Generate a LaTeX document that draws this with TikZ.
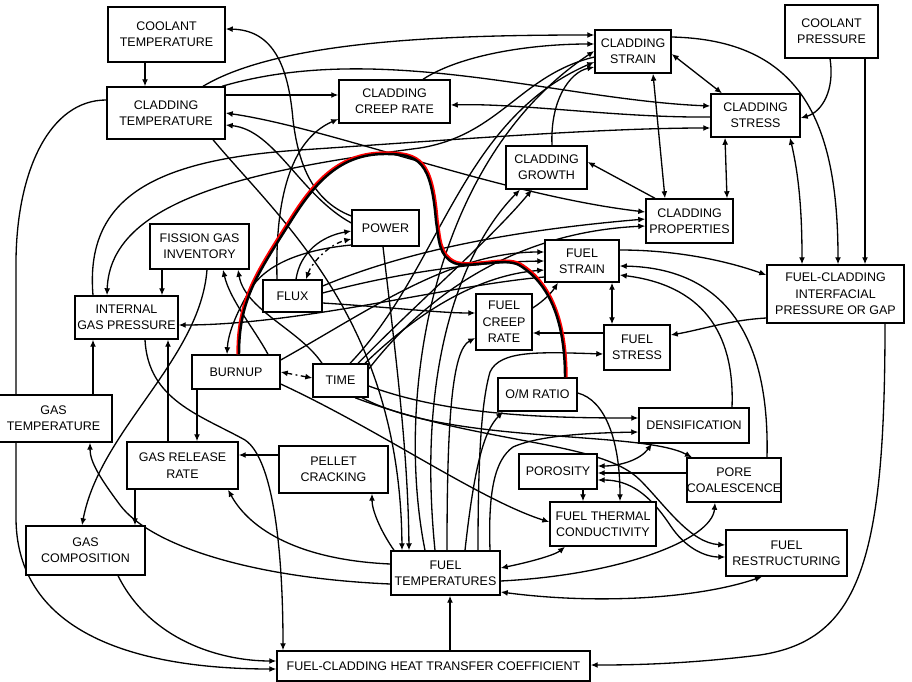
\documentclass[tikz,border=0pt]{standalone}
\usepackage{fontspec}
\setmainfont{Liberation Sans}
\usetikzlibrary{arrows.meta,calc}
\pgfdeclarelayer{bg}
\pgfsetlayers{bg,main}
\tikzset{
 bx/.style={draw,fill=white,line width=0.8pt,align=center,inner sep=0pt,font=\fontsize{7.1}{9.3}\selectfont},
 ar/.style={line width=0.75pt,-{Latex[length=4pt,width=3.4pt]}},
 br/.style={line width=0.75pt,{Latex[length=4pt,width=3.4pt]}-{Latex[length=4pt,width=3.4pt]}},
 ddash/.style={br,dash pattern=on 3pt off 2pt on 1pt off 2pt},
 hilite/.style={line width=1.9pt,red},
 hiblack/.style={line width=1.4pt,black},
}
\newcommand\bnode[6]{\node[bx,minimum width=#4*0.02cm,minimum height=#5*0.02cm] (#1) at (#2,#3) {#6};}
\begin{document}
\begin{tikzpicture}[x=0.02cm,y=-0.02cm]
\useasboundingbox (0,0) rectangle (912,682);
% nodes
\bnode{cool}{166.5}{34.5}{117}{55}{COOLANT\\TEMPERATURE}
\bnode{ct}{166}{113}{118}{52}{CLADDING\\TEMPERATURE}
\bnode{ccr}{394.5}{101.5}{111}{43}{CLADDING\\CREEP RATE}
\bnode{cstr}{633}{51.5}{76}{43}{CLADDING\\STRAIN}
\bnode{css}{755.5}{115.5}{89}{43}{CLADDING\\STRESS}
\bnode{cpr}{831.5}{31.5}{93}{53}{COOLANT\\PRESSURE}
\bnode{cg}{546.5}{167.5}{81}{43}{CLADDING\\GROWTH}
\bnode{cprop}{689.5}{221}{87}{44}{CLADDING\\PROPERTIES}
\bnode{pow}{385.5}{228}{67}{36}{POWER}
\bnode{fgi}{199.5}{246.5}{99}{45}{FISSION GAS\\INVENTORY}
\bnode{flux}{292.5}{296}{59}{32}{FLUX}
\bnode{igp}{126.5}{317.5}{103}{43}{INTERNAL\\GAS PRESSURE}
\bnode{bu}{236}{372}{88}{34}{BURNUP}
\bnode{time}{340.5}{380.5}{55}{33}{TIME}
\bnode{gt}{53.5}{418.5}{117}{47}{GAS\\TEMPERATURE}
\bnode{fs}{582}{261}{74}{42}{FUEL\\STRAIN}
\bnode{fcr}{504}{322}{56}{56}{FUEL\\CREEP\\RATE}
\bnode{fst}{637}{347.5}{66}{45}{FUEL\\STRESS}
\bnode{fci}{835.5}{294}{137}{58}{FUEL-CLADDING\\INTERFACIAL\\PRESSURE OR GAP}
\bnode{om}{537.5}{394.5}{79}{33}{O/M RATIO}
\bnode{dens}{694}{425.5}{110}{35}{DENSIFICATION}
\bnode{por}{558}{471.5}{78}{35}{POROSITY}
\bnode{pc}{734}{480}{94}{44}{PORE\\COALESCENCE}
\bnode{ftc}{603}{524}{106}{44}{FUEL THERMAL\\CONDUCTIVITY}
\bnode{fr}{786.5}{553}{121}{46}{FUEL\\RESTRUCTURING}
\bnode{ft}{445.5}{573}{109}{44}{FUEL\\TEMPERATURES}
\bnode{pel}{333.5}{469.5}{109}{47}{PELLET\\CRACKING}
\bnode{grr}{182.5}{465.5}{111}{47}{GAS RELEASE\\RATE}
\bnode{gc}{85.5}{550.5}{119}{49}{GAS\\COMPOSITION}
\bnode{htc}{433.5}{666}{313}{30}{FUEL-CLADDING HEAT TRANSFER COEFFICIENT}

\begin{pgfonlayer}{bg}
\fill[white] (0,0) rectangle (912,682);
% top area
\draw[ar] (cool.south -| 145,0) -- (ct.north -| 145,0);
\draw[ar] (pow.west |- 0,216) .. controls (310,200) and (298,160) .. (293,120) .. controls (288,60) and (270,30) .. (cool.east |- 0,29);
\draw[ar] (pow.west |- 0,223) .. controls (300,195) and (275,130) .. (ct.east |- 0,125);
\draw[ar] (ct.east |- 0,95) -- (ccr.west |- 0,95);
\draw[ar] (ct.north -| 203,0) .. controls (280,40) and (450,35) .. (cstr.west |- 0,35);
\draw[ar] (ct.north -| 222,0) .. controls (380,40) and (560,100) .. (css.west |- 0,106);
\draw[ar] (ccr.north -| 423,0) .. controls (460,55) and (530,44) .. (cstr.west |- 0,44);
\draw[ar] (css.west |- 0,117) .. controls (620,118) and (520,103) .. (ccr.east |- 0,105);
\draw[ar] (cpr.south -| 830,0) .. controls (835,90) and (822,112) .. (css.east |- 0,118);
\draw[ar] (cpr.south -| 865,0) -- (fci.north -| 865,0);
\draw[ar] (cstr.east |- 0,37) .. controls (800,40) and (838,120) .. (fci.north -| 838,0);
\draw[br] (cstr.east |- 0,54) -- (css.north -| 722,0);
\draw[br] (cstr.south -| 653,0) -- (cprop.north -| 665,0);
\draw[br] (css.south -| 725,0) -- (cprop.north -| 727,0);
\draw[br] (css.south -| 790,0) .. controls (800,180) and (802,220) .. (fci.north -| 802,0);
\draw[ar] (cprop.north -| 655,0) -- (cg.east |- 0,162);
\draw[ar] (cg.north -| 552,0) .. controls (550,100) and (570,72) .. (cstr.west |- 0,67);
\draw[ar] (igp.north -| 93,0) .. controls (85,200) and (150,160) .. (300,150) .. controls (450,140) and (600,128) .. (css.west |- 0,128);
\draw[ar] (cstr.west |- 0,57) .. controls (520,75) and (500,135) .. (420,148) .. controls (250,170) and (110,200) .. (igp.north -| 107,0);
\draw[br] (cprop.west |- 0,212) .. controls (500,195) and (330,128) .. (ct.east |- 0,113);
\draw[ar] (ct.south -| 213,0) .. controls (280,220) and (400,320) .. (ft.north -| 402,0);
\draw[ar] (pow.south -| 383,0) .. controls (395,350) and (408,450) .. (ft.north -| 409,0);
% from fuel temperatures upward
\draw[ar] (ft.north -| 425,0) .. controls (395,400) and (430,160) .. (cstr.west |- 0,51);
\draw[ar] (ft.north -| 435,0) .. controls (415,350) and (470,240) .. (cg.south -| 520,0);
\draw[ar] (ft.north -| 447,0) .. controls (447,420) and (452,350) .. (fcr.west |- 0,338);
\draw[ar] (ft.north -| 465,0) .. controls (475,460) and (485,430) .. (om.south -| 503,0);
\draw[ar] (ft.north -| 478,0) .. controls (478,450) and (482,400) .. (490,372) .. controls (500,350) and (540,352) .. (fst.west |- 0,354);
\draw[ar] (ft.north -| 490,0) .. controls (488,490) and (495,460) .. (513,447) .. controls (540,435) and (590,433) .. (dens.west |- 0,432);
% time
\draw[ar] (time.east |- 0,386) .. controls (450,416) and (550,418) .. (dens.west |- 0,418);
\draw[ar] (time.south -| 355,0) .. controls (480,445) and (600,440) .. (640,480) .. controls (665,505) and (690,543) .. (fr.west |- 0,545);
\draw[ar] (time.south -| 362,0) .. controls (450,445) and (640,430) .. (pc.north -| 692,0);
\draw[ddash] (bu.east |- 0,372) -- (time.west |- 0,378);
\draw[ar] (bu.east |- 0,384) .. controls (380,430) and (480,500) .. (ftc.west |- 0,522);
\draw[ar] (bu.south -| 197,0) -- (grr.north -| 197,0);
\draw[ar] (pel.west |- 0,455) -- (grr.east |- 0,455);
\draw[ar] (ft.north -| 394,0) .. controls (380,530) and (372,510) .. (pel.south -| 372,0);
\draw[ar] (ft.west |- 0,564) .. controls (300,560) and (250,530) .. (grr.south -| 228,0);
\draw[ar] (ft.west |- 0,584) .. controls (250,578) and (150,545) .. (120,505) .. controls (100,478) and (90,462) .. (gt.south -| 90,0);
\draw[ar] (gt.north -| 93,0) -- (igp.south -| 93,0);
\draw[ar] (grr.north -| 168,0) -- (igp.south -| 168,0);
\draw[ar] (grr.south -| 135,0) -- (gc.north -| 135,0);
\draw[ar] (fgi.south -| 162,0) -- (igp.north -| 162,0);
\draw[ar] (fgi.south -| 207,0) .. controls (200,360) and (100,430) .. (gc.north -| 82,0);
\draw[ar] (igp.south -| 145,0) .. controls (148,400) and (200,415) .. (245,440) .. controls (275,460) and (283,560) .. (htc.north -| 283,0);
\draw[ar] (gc.south -| 118,0) .. controls (150,640) and (220,661) .. (htc.west |- 0,661);
\draw[ar] (ct.west |- 0,100) .. controls (50,100) and (17,170) .. (16,260) -- (16,520) .. controls (18,640) and (150,669) .. (htc.west |- 0,669);
\draw[ar] (htc.north -| 450,0) -- (ft.south -| 450,0);
\draw[ar] (fci.south -| 885,0) .. controls (885,560) and (860,640) .. (760,655) .. controls (680,665) and (620,665) .. (htc.east |- 0,665);
\draw[br] (ft.east |- 0,568) .. controls (530,562) and (555,555) .. (ftc.south -| 565,0);
\draw[ar] (ft.east |- 0,581) .. controls (620,575) and (712,540) .. (pc.south -| 715,0);
\draw[br] (ft.east |- 0,592) .. controls (600,605) and (700,598) .. (fr.south -| 762,0);
\draw[ar] (por.south -| 583,0) -- (ftc.north -| 583,0);
\draw[ar] (om.east |- 0,393) .. controls (605,400) and (620,440) .. (ftc.north -| 620,0);
\draw[br] (dens.south -| 652,0) .. controls (640,460) and (620,466) .. (por.east |- 0,466);
\draw[ar] (pc.west |- 0,473) -- (por.east |- 0,473);
\draw[br] (por.east |- 0,480) .. controls (630,480) and (650,495) .. (670,525) .. controls (685,548) and (705,557) .. (fr.west |- 0,557);
\draw[ar] (dens.north -| 732,0) .. controls (735,330) and (700,285) .. (fs.east |- 0,275);
\draw[ar] (pc.north -| 767,0) .. controls (770,330) and (720,268) .. (fs.east |- 0,266);
\draw[ar] (fs.east |- 0,250) .. controls (680,250) and (730,262) .. (fci.west |- 0,275);
\draw[br] (fs.south -| 612,0) -- (fst.north -| 612,0);
\draw[ar] (fci.west |- 0,318) .. controls (730,320) and (700,330) .. (fst.east |- 0,335);
\draw[ar] (fst.west |- 0,333) -- (fcr.east |- 0,333);
\draw[ar] (fcr.east |- 0,308) .. controls (545,300) and (552,292) .. (fs.south -| 558,0);
% flux, power, burnup
\draw[ar] (flux.east |- 0,303) .. controls (400,308) and (440,313) .. (fcr.west |- 0,313);
\draw[ar] (flux.north -| 277,0) .. controls (275,200) and (290,140) .. (ccr.west |- 0,119);
\draw[ar] (flux.north -| 296,0) .. controls (300,252) and (322,236) .. (pow.west |- 0,231);
\draw[ddash] (flux.north -| 306,0) .. controls (312,262) and (330,244) .. (pow.west |- 0,239);
\draw[ar] (pow.west |- 0,245) .. controls (300,250) and (265,265) .. (250,290) .. controls (235,315) and (228,335) .. (bu.north -| 227,0);
\draw[ar] (bu.north -| 268,0) .. controls (255,330) and (230,300) .. (fgi.south -| 223,0);
\draw[ar] (time.north -| 322,0) .. controls (300,330) and (245,310) .. (fgi.south -| 238,0);
\draw[ar] (bu.east |- 0,360) .. controls (370,310) and (450,252) .. (fs.west |- 0,252);
\draw[ar] (time.north -| 365,0) .. controls (420,310) and (480,275) .. (fs.west |- 0,270);
\draw[ar] (flux.east |- 0,293) .. controls (400,272) and (480,262) .. (fs.west |- 0,261);
\draw[ar] (flux.east |- 0,286) .. controls (420,245) and (540,228) .. (cprop.west |- 0,219);
\draw[ar] (time.east |- 0,369) .. controls (430,290) and (520,232) .. (cprop.west |- 0,226);
\draw[ar] (time.north -| 358,0) .. controls (420,300) and (490,240) .. (cg.south -| 532,0);
\draw[ar] (time.north -| 350,0) .. controls (440,270) and (460,120) .. (cstr.west |- 0,62);
\draw[ar] (fs.west |- 0,277) .. controls (450,285) and (300,325) .. (igp.east |- 0,325);
\end{pgfonlayer}
% highlighted path
\draw[hilite] (om.north -| 566,0) .. controls (566,330) and (555,285) .. (520,264) .. controls (505,256) and (470,268) .. (455,262) .. controls (440,255) and (440,240) .. (437,220) .. controls (432,160) and (420,153) .. (385,153) .. controls (340,153) and (315,180) .. (290,220) .. controls (255,275) and (238,300) .. (bu.north -| 238,0);
\draw[hiblack] (om.north -| 565,0) .. controls (565,330) and (554,286) .. (519,265) .. controls (504,257) and (469,269) .. (454,263) .. controls (439,256) and (439,241) .. (436,221) .. controls (431,161) and (419,154) .. (385,154) .. controls (341,154) and (316,181) .. (291,221) .. controls (256,276) and (239,301) .. (bu.north -| 239,0);
\end{tikzpicture}
\end{document}
